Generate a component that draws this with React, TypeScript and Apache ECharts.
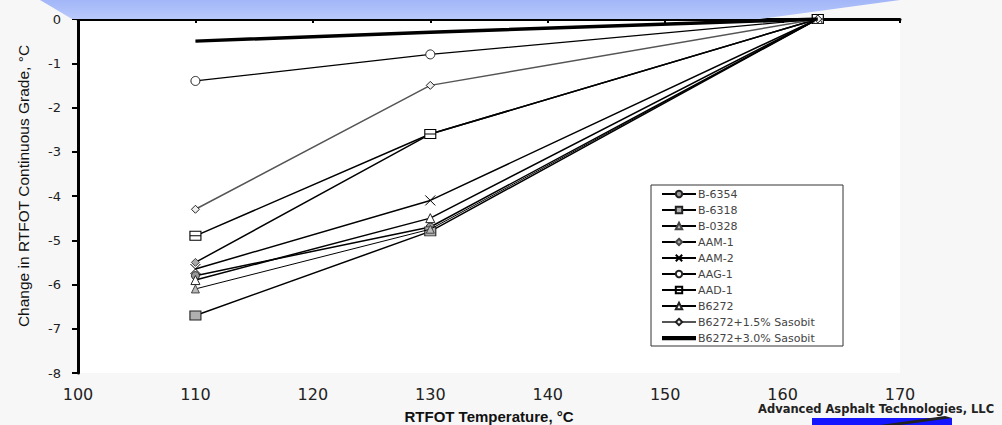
import React, { useEffect, useRef } from 'react';
import * as echarts from 'echarts';

const temps = [110, 130, 163];
const names = ['B-6354', 'B-6318', 'B-0328', 'AAM-1', 'AAM-2', 'AAG-1', 'AAD-1', 'B6272', 'B6272+1.5% Sasobit', 'B6272+3.0% Sasobit'];
const b6354 = [-5.8, -4.7, 0];
const b6318 = [-6.7, -4.8, 0];
const b0328 = [-6.1, -4.75, 0];
const aam1 = [-5.5, -2.6, 0];
const aam2 = [-5.65, -4.1, 0];
const aag1 = [-1.4, -0.8, 0];
const aad1 = [-4.9, -2.6, 0];
const b6272 = [-5.9, -4.5, 0];
const sas15 = [-4.3, -1.5, 0];
const sas30 = [-0.5, -0.3, 0];
const values = [b6354, b6318, b0328, aam1, aam2, aag1, aad1, b6272, sas15, sas30];

const xAxisTitle = 'RTFOT Temperature, °C';
const yAxisTitle = 'Change in RTFOT Continuous Grade, °C';
const company = 'Advanced Asphalt Technologies, LLC';

const styles: any[] = [
  { symbol: 'circle', size: 8, fill: '#999', border: '#222', line: '#000', lw: 1.5 },
  { symbol: 'rect', size: [11, 9], fill: '#b0b0b0', border: '#222', line: '#000', lw: 1.5 },
  { symbol: 'triangle', size: 8, fill: '#bbb', border: '#444', line: '#000', lw: 1 },
  { symbol: 'diamond', size: 8, fill: '#aaa', border: '#444', line: '#000', lw: 1.5 },
  { symbol: 'path://M0,0L10,10M10,0L0,10', size: 10, fill: '#000', border: '#000', line: '#000', lw: 1.5 },
  { symbol: 'circle', size: 9, fill: '#fff', border: '#222', line: '#000', lw: 1.2 },
  { symbol: 'path://M0,0H12V9H0ZM0,4.5H12', size: [11, 9], fill: '#fff', border: '#000', line: '#000', lw: 1.5 },
  { symbol: 'triangle', size: 9, fill: '#fff', border: '#222', line: '#000', lw: 1.5 },
  { symbol: 'diamond', size: 8, fill: '#eee', border: '#222', line: '#555', lw: 1.5 },
  { symbol: 'none', size: 0, fill: '#000', border: '#000', line: '#000', lw: 3.5 },
];

export default function App() {
  const ref = useRef<HTMLDivElement>(null);
  useEffect(() => {
    const chart = echarts.init(ref.current!, null, { renderer: 'svg' });
    const series = names.map((n, i) => {
      const s = styles[i];
      return {
        name: n,
        type: 'line',
        data: temps.map((t, j) => [t, values[i][j]]),
        symbol: s.symbol,
        symbolSize: s.size,
        showSymbol: s.symbol !== 'none',
        z: 3 + i,
        lineStyle: { color: s.line, width: s.lw },
        itemStyle: { color: s.fill, borderColor: s.border, borderWidth: 1 },
        emphasis: { disabled: true },
      };
    });
    const legendData = names.map((n, i) =>
      styles[i].symbol === 'none'
        ? { name: n, icon: 'path://M0,0H32V4H0Z', itemStyle: { color: '#000', borderWidth: 0 } }
        : { name: n }
    );
    chart.setOption({
      animation: false,
      backgroundColor: '#f7f7f7',
      textStyle: { fontFamily: 'Liberation Sans, Arial, sans-serif' },
      grid: {
        left: 78, top: 19, width: 822, height: 354,
        outerBoundsMode: 'none', containLabel: false,
        show: true, backgroundColor: '#fff', borderWidth: 0,
      },
      legend: {
        orient: 'vertical',
        left: 651,
        top: 185,
        backgroundColor: '#fff',
        borderColor: '#333',
        borderWidth: 1,
        borderRadius: 0,
        padding: [3, 2, 2, 10],
        itemWidth: 34,
        itemHeight: 8,
        itemGap: 4,
        textStyle: { fontSize: 11, lineHeight: 12, color: '#444', fontFamily: 'DejaVu Sans', width: 143, padding: [0, 0, 0, -3] },
        data: legendData,
      },
      xAxis: {
        type: 'value',
        min: 100,
        max: 170,
        interval: 10,
        name: xAxisTitle,
        nameLocation: 'middle',
        nameGap: 36,
        nameTextStyle: { fontSize: 15, fontWeight: 'bold', color: '#111' },
        axisLine: { lineStyle: { color: '#000', width: 3 } },
        axisTick: { length: 4, lineStyle: { color: '#000', width: 2 } },
        axisLabel: { fontSize: 16, color: '#222', margin: 13, fontFamily: 'DejaVu Sans' },
        splitLine: { show: false },
      },
      yAxis: {
        type: 'value',
        min: -8,
        max: 0,
        interval: 1,
        axisLine: { lineStyle: { color: '#000', width: 3 } },
        axisTick: { length: 6, lineStyle: { color: '#000', width: 2 } },
        axisLabel: { fontSize: 13, color: '#222', margin: 17, fontFamily: 'DejaVu Sans' },
        splitLine: { show: false },
      },
      graphic: [
        {
          type: 'polygon',
          z: 1,
          shape: { points: [[40, 0], [72, 19], [760, 19], [900, 0]] },
          style: {
            fill: new echarts.graphic.LinearGradient(0, 0, 0, 1, [
              { offset: 0, color: '#a2b6f8' },
              { offset: 1, color: '#b9c9fb' },
            ]),
          },
        },
        {
          type: 'text',
          z: 1,
          x: 23,
          y: 186,
          rotation: Math.PI / 2,
          style: {
            text: yAxisTitle, fontSize: 15.5, fill: '#111', align: 'center', verticalAlign: 'middle',
            fontFamily: 'Liberation Sans, Arial, sans-serif',
          },
        },
        {
          type: 'text',
          z: 1,
          left: 758,
          top: 403,
          style: { text: company, fontSize: 11.5, fontWeight: 'bold', fill: '#222', fontFamily: 'DejaVu Sans' },
        },
        { type: 'rect', z: 1, shape: { x: 812, y: 418, width: 140, height: 10 }, style: { fill: '#1414ff' } },
        { type: 'polygon', z: 1, shape: { points: [[880, 425], [945, 416], [952, 418], [900, 425]] }, style: { fill: '#222' } },
      ],
      series,
    });
    return () => chart.dispose();
  }, []);
  return <div ref={ref} style={{ position: 'fixed', left: 0, top: 0, width: 1002, height: 425 }} />;
}
